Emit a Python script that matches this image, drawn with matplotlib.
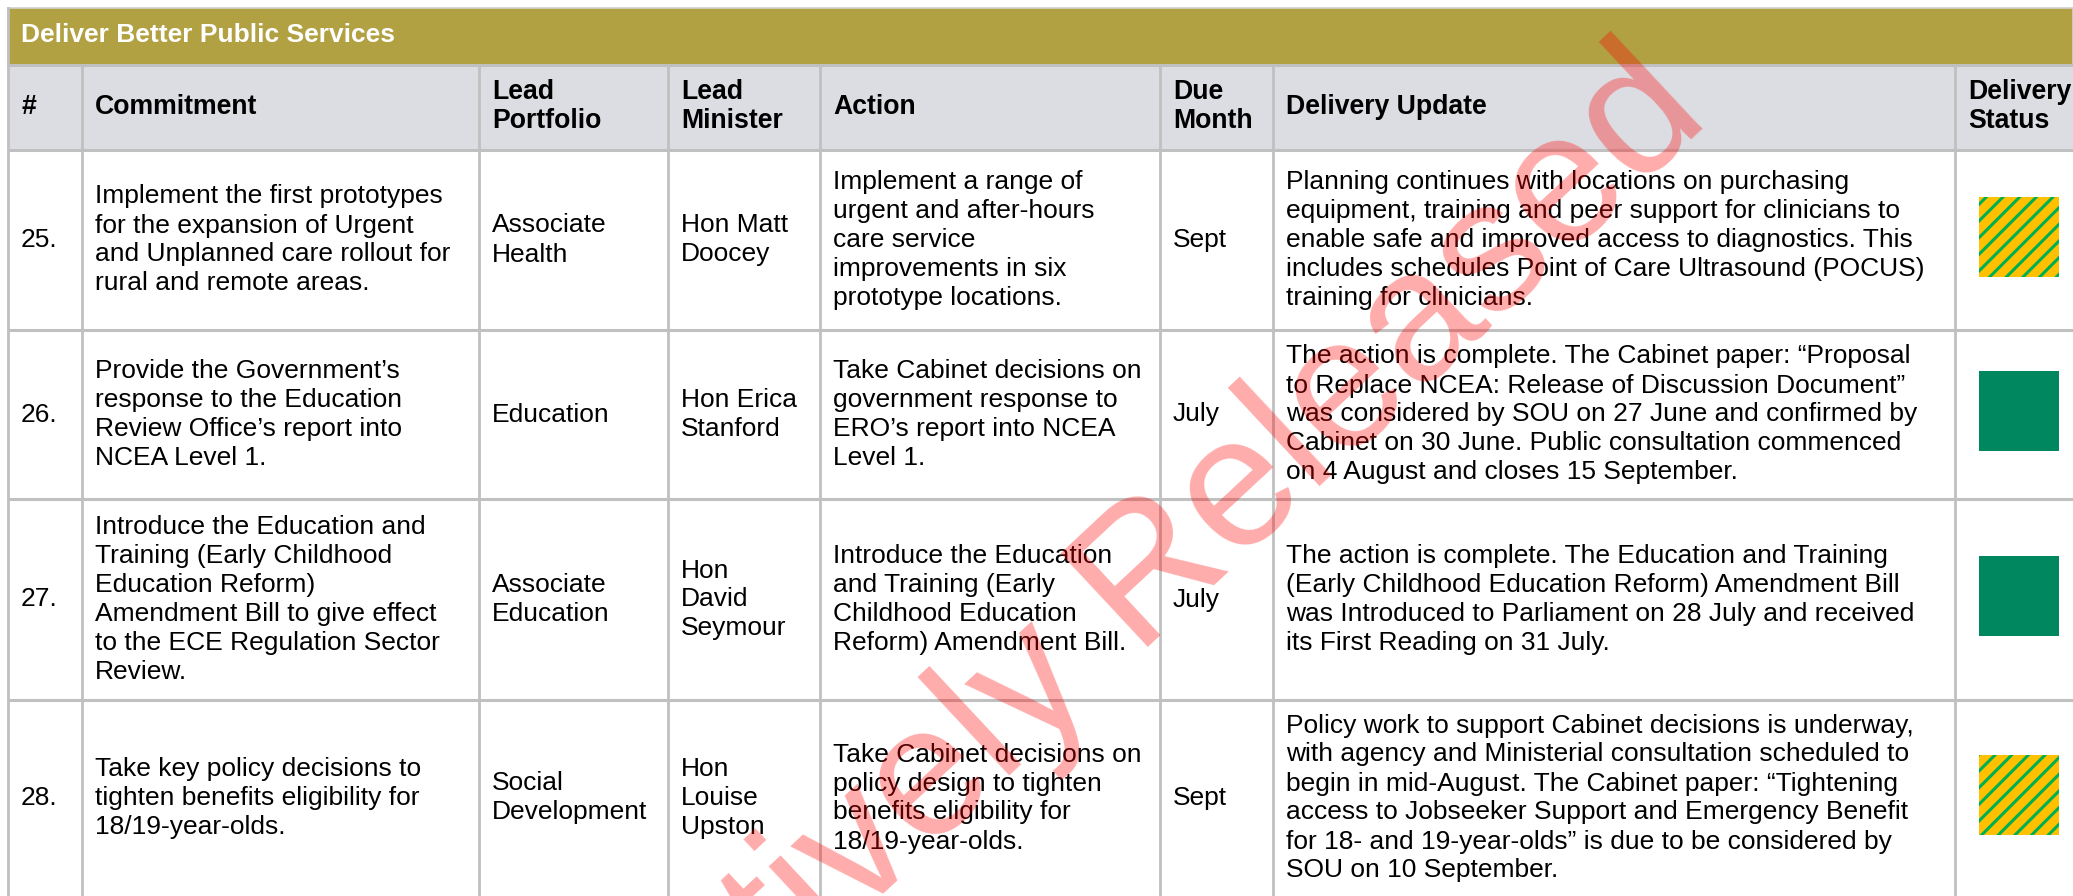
import matplotlib
matplotlib.use("Agg")
import matplotlib.pyplot as plt
from matplotlib.patches import Rectangle

plt.rcParams['font.family'] = ['Liberation Sans', 'DejaVu Sans']
plt.rcParams['hatch.linewidth'] = 2.2

W, H = 2073, 896

# ---- table content ----
section_title = "Deliver Better Public Services"
headers = ["#", "Commitment", "Lead\nPortfolio", "Lead\nMinister", "Action",
           "Due\nMonth", "Delivery Update", "Delivery\nStatus"]

numbers = ["25.", "26.", "27.", "28."]
commitments = [
    "Implement the first prototypes\nfor the expansion of Urgent\nand Unplanned care rollout for\nrural and remote areas.",
    "Provide the Government\u2019s\nresponse to the Education\nReview Office\u2019s report into\nNCEA Level 1.",
    "Introduce the Education and\nTraining (Early Childhood\nEducation Reform)\nAmendment Bill to give effect\nto the ECE Regulation Sector\nReview.",
    "Take key policy decisions to\ntighten benefits eligibility for\n18/19-year-olds.",
]
portfolios = ["Associate\nHealth", "Education", "Associate\nEducation", "Social\nDevelopment"]
ministers = ["Hon Matt\nDoocey", "Hon Erica\nStanford", "Hon\nDavid\nSeymour", "Hon\nLouise\nUpston"]
actions = [
    "Implement a range of\nurgent and after-hours\ncare service\nimprovements in six\nprototype locations.",
    "Take Cabinet decisions on\ngovernment response to\nERO\u2019s report into NCEA\nLevel 1.",
    "Introduce the Education\nand Training (Early\nChildhood Education\nReform) Amendment Bill.",
    "Take Cabinet decisions on\npolicy design to tighten\nbenefits eligibility for\n18/19-year-olds.",
]
due_months = ["Sept", "July", "July", "Sept"]
updates = [
    "Planning continues with locations on purchasing\nequipment, training and peer support for clinicians to\nenable safe and improved access to diagnostics. This\nincludes schedules Point of Care Ultrasound (POCUS)\ntraining for clinicians.",
    "The action is complete. The Cabinet paper: \u201cProposal\nto Replace NCEA: Release of Discussion Document\u201d\nwas considered by SOU on 27 June and confirmed by\nCabinet on 30 June. Public consultation commenced\non 4 August and closes 15 September.",
    "The action is complete. The Education and Training\n(Early Childhood Education Reform) Amendment Bill\nwas Introduced to Parliament on 28 July and received\nits First Reading on 31 July.",
    "Policy work to support Cabinet decisions is underway,\nwith agency and Ministerial consultation scheduled to\nbegin in mid-August. The Cabinet paper: \u201cTightening\naccess to Jobseeker Support and Emergency Benefit\nfor 18- and 19-year-olds\u201d is due to be considered by\nSOU on 10 September.",
]
statuses = ["on track with risks", "complete", "complete", "on track with risks"]

# ---- layout ----
col_edges = [8, 82, 479, 668, 820, 1160, 1273, 1955, 2100]
row_edges = [150, 330, 499, 700, 896]
title_top, title_bot = 8, 65
pad = 13
lh = 29.0
body_fs = 19.0
head_fs = 19.2
grid_col = '#C0C0C0'
olive = '#B1A142'
head_bg = '#DCDDE2'
green = '#00875F'
amber = '#FFC000'
stripe = '#00B050'

fig = plt.figure(figsize=(W / 100, H / 100), dpi=100)
ax = fig.add_axes([0, 0, 1, 1])
ax.set_xlim(0, W)
ax.set_ylim(H, 0)
ax.axis('off')


def put_lines(x, yc, text, **kw):
    lines = text.split("\n")
    n = len(lines)
    for i, ln in enumerate(lines):
        y = yc + (i - (n - 1) / 2) * lh
        ax.text(x, y, ln, ha='left', va='center', **kw)


# title bar
ax.add_patch(Rectangle((col_edges[0], title_top), W - col_edges[0], title_bot - title_top,
                       facecolor=olive, edgecolor='#D0D0D0', lw=1.2, zorder=1))
ax.text(col_edges[0] + 13, (title_top + title_bot) / 2 - 1, section_title, color='white',
        fontsize=19, fontweight='bold', ha='left', va='center', zorder=3)

# header row
ax.add_patch(Rectangle((col_edges[0], title_bot), W - col_edges[0], row_edges[0] - title_bot,
                       facecolor=head_bg, edgecolor='none', zorder=1))
hy = (title_bot + row_edges[0]) / 2 - 1
for j, h in enumerate(headers):
    put_lines(col_edges[j] + pad, hy, h, fontsize=head_fs, fontweight='bold', color='black', zorder=3)

# grid lines
for x in col_edges[:-1]:
    ax.plot([x, x], [title_bot, H], color=grid_col, lw=2.0, zorder=2, solid_capstyle='butt')
ax.plot([col_edges[0], col_edges[0]], [title_top, title_bot], color=grid_col, lw=2.0, zorder=2)
for y in [title_bot] + row_edges[:-1]:
    ax.plot([col_edges[0], W], [y, y], color=grid_col, lw=2.2, zorder=2, solid_capstyle='butt')

# body rows
columns = [numbers, commitments, portfolios, ministers, actions, due_months, updates]
for i in range(len(numbers)):
    yc = (row_edges[i] + row_edges[i + 1]) / 2
    for j, col in enumerate(columns):
        put_lines(col_edges[j] + pad, yc, col[i], fontsize=body_fs, color='black', zorder=3)
    # status square
    sq = 80
    sx = col_edges[7] + 24
    sy = yc - sq / 2 - 3
    if statuses[i] == "complete":
        ax.add_patch(Rectangle((sx, sy), sq, sq, facecolor=green, edgecolor='none', zorder=3))
    else:
        ax.add_patch(Rectangle((sx, sy), sq, sq, facecolor=amber, edgecolor=stripe,
                               hatch='//', lw=0, zorder=3))

# watermark
ax.text(1040, 682, "Proactively Released", rotation=43, rotation_mode='anchor',
        fontsize=134, color='red', alpha=0.33, ha='center', va='center', zorder=10)

fig.savefig("out.png", dpi=100)
